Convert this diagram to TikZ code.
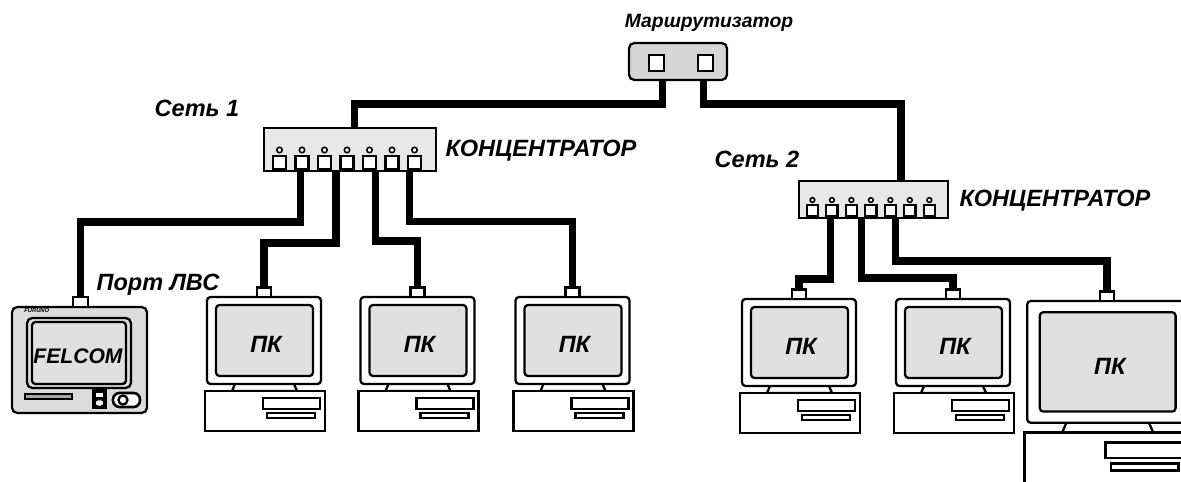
\documentclass[tikz,border=0pt]{standalone}
\usepackage{fontspec}
\setmainfont{Liberation Sans}
\usetikzlibrary{calc}
\definecolor{screengray}{HTML}{E0E0E0}
\definecolor{hubgray}{HTML}{E8E8E8}
\definecolor{routergray}{HTML}{D6D6D6}
\definecolor{bodygray}{HTML}{DCDCDC}
\tikzset{
  box/.style={draw=black,line width=1.3pt},
  cable/.style={draw=black,line width=0.15cm},
  port/.style={box,fill=white,minimum width=0.28cm,minimum height=0.19cm,inner sep=0pt,outer sep=0pt},
  lbl/.style={font=\bfseries\itshape\fontsize{13.4}{15}\selectfont,inner sep=0pt},
  hub/.pic={
    \draw[box,fill=hubgray] (0,0) rectangle (172,43);
    \foreach \i in {0,...,6}{
      \draw[box,fill=white] (9+22.5*\i,28) rectangle ++(13,13);
      \draw[box,fill=white,line width=0.9pt] (15.5+22.5*\i,22) circle[radius=2.7];
    }
    \coordinate (-top) at (#1,0);
    \coordinate (-a) at (36.5,43);
    \coordinate (-b) at (72,43);
    \coordinate (-c) at (111.5,43);
    \coordinate (-d) at (145.5,43);
  },
  pc/.pic={
    \draw[box,rounded corners=2pt,fill=white] (-57,0) rectangle (57,87);
    \draw[box,rounded corners=2pt,fill=screengray] (-48,8) rectangle (49,79);
    \draw[box] (-29,87) -- (-32,94) -- (33,94) -- (30,87);
    \draw[box,fill=white] (-59,94) rectangle (61,134);
    \draw[box] (-1,101) rectangle (56,112);
    \draw[box] (3,116) rectangle (51,121);
    \node[port,anchor=south] (-port) at (0,0) {};
    \node[lbl] (-name) at (2,47) {ПК};
  }
}
\begin{document}
\begin{tikzpicture}[x=0.02cm,y=-0.02cm]
  \useasboundingbox (0,0) rectangle (1181,482);
  \clip (0,0) rectangle (1181,482);
  % router and the two hubs
  \node[box,fill=routergray,rounded corners=3pt,minimum width=1.96cm,minimum height=0.74cm,inner sep=0pt,outer sep=0pt] (rtr) at (678,61.5) {};
  \draw[box,fill=white] (649,55) rectangle (664,71);
  \draw[box,fill=white] (698,55) rectangle (713,71);
  \pic (hubA) at (264,128) {hub=90.5};
  \pic[scale=0.866] (hubB) at (799,181) {hub=117.8};
  % workstations
  \pic (pcA) at (264,297) {pc};
  \pic (pcB) at (417.5,297) {pc};
  \pic (pcC) at (572.5,297) {pc};
  \pic (pcD) at (799,299) {pc};
  \pic (pcE) at (953,299) {pc};
  \pic[scale=1.4] (pcF) at (1107,301) {pc};
  % FELCOM terminal
  \draw[box,fill=bodygray,rounded corners=3pt] (12,307) rectangle (147,413);
  \draw[box,fill=bodygray,rounded corners=3pt] (27,318) rectangle (131,388);
  \draw[box,fill=screengray,rounded corners=2pt] (32,322) rectangle (126,384);
  \node[font=\bfseries\itshape\fontsize{3.3}{4}\selectfont,inner sep=0pt,anchor=base west] (maker) at (24,313) {FURUNO};
  \node[lbl,font=\bfseries\itshape\fontsize{12}{14}\selectfont,anchor=base] (unit) at (78,364) {FELCOM};
  \draw[box,fill=gray!70] (25,394) rectangle (72,399);
  \draw[box,fill=black] (93,390) rectangle (106,408);
  \draw[fill=white] (95.5,392) rectangle (103.5,397);
  \draw[fill=white,rounded corners=1.5pt] (95.5,400) rectangle (103.5,406);
  \draw[box,line width=1.5pt,fill=white,rounded corners=0.13cm] (113,393) rectangle (140,407);
  \draw[box,fill=white] (123,400) circle[radius=4.5];
  \node[port,anchor=south,minimum width=0.3cm,minimum height=0.2cm] (fport) at (80.5,307) {};
  % cables
  \draw[cable] ([xshift=-0.31cm]rtr.south) -- ++(0,24) -| (hubA-top);
  \draw[cable] ([xshift=0.51cm]rtr.south) -- ++(0,24) -| (hubB-top);
  \draw[cable] (hubA-a) -- ++(0,51) -| (fport.north);
  \draw[cable] (hubA-b) -- ++(0,72) -| (pcA-port.north);
  \draw[cable] (hubA-c) -- ++(0,70) -| (pcB-port.north);
  \draw[cable] (hubA-d) -- ++(0,50.5) -| (pcC-port.north);
  \draw[cable] (hubB-a) -- ++(0,61) -| (pcD-port.north);
  \draw[cable] (hubB-b) -- ++(0,60) -| (pcE-port.north);
  \draw[cable] (hubB-c) -- ++(0,43) -| (pcF-port.north);
  % labels
  \node[lbl,font=\bfseries\itshape\fontsize{11}{13}\selectfont,anchor=base] (rtrname) at (709,28) {Маршрутизатор};
  \node[lbl,anchor=base] (net1) at (197,117) {Сеть 1};
  \node[lbl,anchor=base] (hubAname) at (541,157) {КОНЦЕНТРАТОР};
  \node[lbl,anchor=base] (net2) at (757,168) {Сеть 2};
  \node[lbl,anchor=base] (hubBname) at (1055,207) {КОНЦЕНТРАТОР};
  \node[lbl,anchor=base] (lanport) at (158,291) {Порт ЛВС};
\end{tikzpicture}
\end{document}
